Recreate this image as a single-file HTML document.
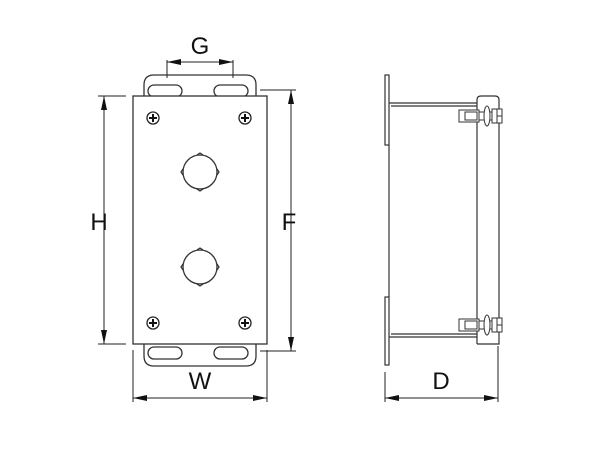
<!DOCTYPE html>
<html><head><style>body{margin:0;background:#fff}svg{display:block}</style></head><body>
<svg width="600" height="450" viewBox="0 0 600 450" xmlns="http://www.w3.org/2000/svg" font-family="Liberation Sans, Arial, sans-serif">
<defs>
<marker id="a" markerWidth="14" markerHeight="6" refX="14" refY="3" orient="auto" markerUnits="userSpaceOnUse"><path d="M0,0 L14,3 L0,6 Z" fill="#111"/></marker>
<g id="scr"><circle r="6" fill="#fff" stroke="#222" stroke-width="1.3"/><path d="M-4,0H4M0,-4V4" stroke="#111" stroke-width="2"/></g>
<g id="hole"><circle r="17" fill="#fff" stroke="#333" stroke-width="1.3"/><path d="M-3,-17L0,-19L3,-17M-3,17L0,19L3,17M-17,-3L-19,0L-17,3M17,-3L19,0L17,3" fill="none" stroke="#333" stroke-width="1.2"/></g>
<g id="clamp" fill="#fff" stroke="#333" stroke-width="1"><rect x="459" y="-6" width="20" height="12"/><rect x="465" y="-4" width="12" height="8"/><rect x="479" y="-4" width="14" height="8"/><ellipse cx="487" cy="0" rx="3" ry="10"/><rect x="492" y="-7" width="5" height="14"/><rect x="497" y="-7" width="5" height="14"/><path d="M497,0H502"/></g>
</defs>
<g fill="none" stroke="#333" stroke-width="1.3">
<path d="M144,97V85Q144,75 154,75H246Q256,75 256,85V97"/>
<path d="M144,344V356Q144,366 154,366H246Q256,366 256,356V344"/>
<rect x="148" y="85" width="34" height="12" rx="6"/>
<rect x="214" y="85" width="34" height="12" rx="6"/>
<rect x="148" y="347" width="34" height="12" rx="6"/>
<rect x="214" y="347" width="34" height="12" rx="6"/>
<rect x="133" y="96" width="134" height="248" fill="#fff"/>
</g>
<use href="#scr" x="153" y="118"/><use href="#scr" x="245" y="118"/>
<use href="#scr" x="153" y="323"/><use href="#scr" x="245" y="323"/>
<use href="#hole" x="200" y="172"/><use href="#hole" x="200" y="267"/>
<g stroke="#222" stroke-width="1" fill="none">
<path d="M167,60V78M233,60V78"/>
<line x1="200" y1="62" x2="167" y2="62" marker-end="url(#a)"/>
<line x1="200" y1="62" x2="233" y2="62" marker-end="url(#a)"/>
<path d="M98,96H126M98,344H126"/>
<line x1="104" y1="220" x2="104" y2="96" marker-end="url(#a)"/>
<line x1="104" y1="220" x2="104" y2="344" marker-end="url(#a)"/>
<path d="M260,90H296M260,351H296"/>
<line x1="291" y1="220" x2="291" y2="90" marker-end="url(#a)"/>
<line x1="291" y1="220" x2="291" y2="351" marker-end="url(#a)"/>
<path d="M133,350V402M267,350V402"/>
<line x1="200" y1="398" x2="133" y2="398" marker-end="url(#a)"/>
<line x1="200" y1="398" x2="267" y2="398" marker-end="url(#a)"/>
<path d="M385,372V402M498,346V402"/>
<line x1="440" y1="398" x2="385" y2="398" marker-end="url(#a)"/>
<line x1="440" y1="398" x2="498" y2="398" marker-end="url(#a)"/>
</g>
<g fill="none" stroke="#333" stroke-width="1.2">
<rect x="385" y="75" width="4" height="70"/>
<rect x="385" y="297" width="4" height="68"/>
<path d="M389,145V297"/>
<path d="M389,103H477M391,106H477M389,337H477M391,334H477"/>
<path d="M477,344V100Q477,96 481,96H495Q499,96 499,100V344H477"/>
</g>
<use href="#clamp" y="116"/><use href="#clamp" y="325"/>
<g fill="#111" font-size="24" text-anchor="middle">
<text x="200" y="54">G</text>
<text x="99" y="230">H</text>
<text x="289" y="230">F</text>
<text x="200" y="389">W</text>
<text x="441" y="389">D</text>
</g>
</svg>
</body></html>
